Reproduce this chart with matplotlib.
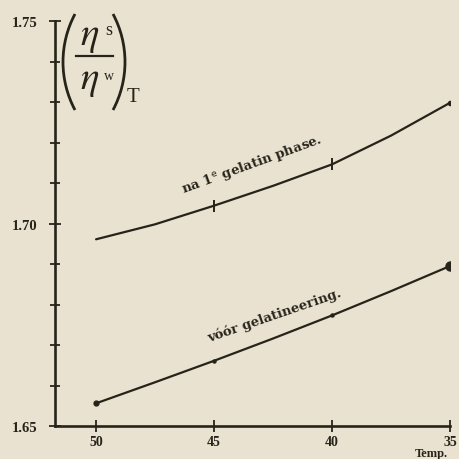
import math
import matplotlib
matplotlib.use("Agg")
import matplotlib.pyplot as plt
from matplotlib.lines import Line2D
from matplotlib.patches import Arc

# Relative viscosity (eta_s / eta_w) against temperature
temp = [50, 47.5, 45, 42.5, 40, 37.5, 35]
after_gel = [1.6961, 1.6998, 1.7044, 1.7093, 1.7146, 1.7217, 1.7298]
before_gel = [1.6556, 1.6608, 1.6661, 1.6716, 1.6773, 1.6833, 1.6895]
marked_temps = [45, 40]

x_ticks = [50, 45, 40, 35]
y_ticks = [1.65, 1.70, 1.75]
y_tick_labels = ["1.65", "1.70", "1.75"]
y_minor = [1.66, 1.67, 1.68, 1.69, 1.71, 1.72, 1.73, 1.74]

paper = "#eae2d0"
ink = "#26241a"
W = H = 460.0

fig = plt.figure(figsize=(4.6, 4.6), dpi=100, facecolor=paper)
ax = fig.add_axes([55 / W, 1 - 427 / H, 395 / W, 405 / H])
ax.set_facecolor(paper)
ax.set_xlim(51.74, 35)
ax.set_ylim(1.65, 1.75)

for s in ("top", "right"):
    ax.spines[s].set_visible(False)
for s in ("left", "bottom"):
    ax.spines[s].set_color(ink)
    ax.spines[s].set_linewidth(1.9)

serif = ["Liberation Serif", "DejaVu Serif"]

ax.set_xticks(x_ticks)
ax.set_xticklabels([str(t) for t in x_ticks], family=serif, fontsize=10,
                   weight="bold", color=ink)
ax.set_yticks(y_ticks)
ax.set_yticklabels(y_tick_labels, family=serif, fontsize=10.5, weight="bold",
                   color=ink)
ax.set_yticks(y_minor, minor=True)
ax.tick_params(axis="both", which="both", direction="inout", color=ink,
               width=1.3)
ax.tick_params(axis="x", which="major", length=9, pad=2)
ax.tick_params(axis="y", which="major", length=9, pad=8)
ax.tick_params(axis="y", which="minor", length=7)

# curves
ax.plot(temp, after_gel, color=ink, lw=1.6, solid_capstyle="round")
ax.plot(temp, before_gel, color=ink, lw=1.6, solid_capstyle="round")

# marked observations
ma = [after_gel[temp.index(t)] for t in marked_temps]
mb = [before_gel[temp.index(t)] for t in marked_temps]
ax.plot(marked_temps, ma, ls="none", marker="|", ms=9, mew=1.4, color=ink)
ax.plot(marked_temps, mb, ls="none", marker="o", ms=2.2, color=ink)
ax.plot([temp[-1]], [before_gel[-1]], ls="none", marker="o", ms=6.5, color=ink)
ax.plot([temp[-1]], [after_gel[-1]], ls="none", marker="o", ms=3, color=ink)
ax.plot([temp[0]], [before_gel[0]], ls="none", marker="o", ms=3.5, color=ink)

# curve labels
lab = dict(ha="center", va="center", family=["DejaVu Serif"], fontsize=9.5,
           weight="bold", color=ink, rotation_mode="anchor")
ax.text(43.39, 1.7149, r"na 1$^{\mathrm{e}}$ gelatin phase.", rotation=20,
        **lab)
ax.text(42.42, 1.6774, "vóór gelatineering.", rotation=19, **lab)


# y-axis quantity: (eta_s / eta_w)_T
def put(x, y, s, **kw):
    fig.text(x / W, 1 - y / H, s, ha="center", va="center", color=ink, **kw)


def paren(x_edge, y_mid, height, bulge, left=True):
    r = (height ** 2 / 4 + bulge ** 2) / (2 * bulge)
    half = math.degrees(math.asin(height / 2 / r))
    if left:
        cx, t1, t2 = x_edge + r, 180 - half, 180 + half
    else:
        cx, t1, t2 = x_edge - r, -half, half
    fig.add_artist(Arc((cx / W, 1 - y_mid / H), 2 * r / W, 2 * r / H,
                       theta1=t1, theta2=t2, transform=fig.transFigure,
                       color=ink, lw=2.0))


paren(63, 63, 96, 12, left=True)
paren(125, 63, 96, 12, left=False)
put(90, 36, r"$\eta$", fontsize=28, math_fontfamily="stix")
put(109, 31, "s", family=serif, fontsize=13)
put(90, 80, r"$\eta$", fontsize=28, math_fontfamily="stix")
put(109, 77, "w", family=serif, fontsize=10)
fig.add_artist(Line2D([76 / W, 113 / W], [1 - 57 / H, 1 - 57 / H],
                      color=ink, lw=1.6))
put(133, 97, "T", family=serif, fontsize=15)

put(431, 454, "Temp.", family=serif, fontsize=9, weight="bold")

fig.savefig("out.png", dpi=100, facecolor=paper)
